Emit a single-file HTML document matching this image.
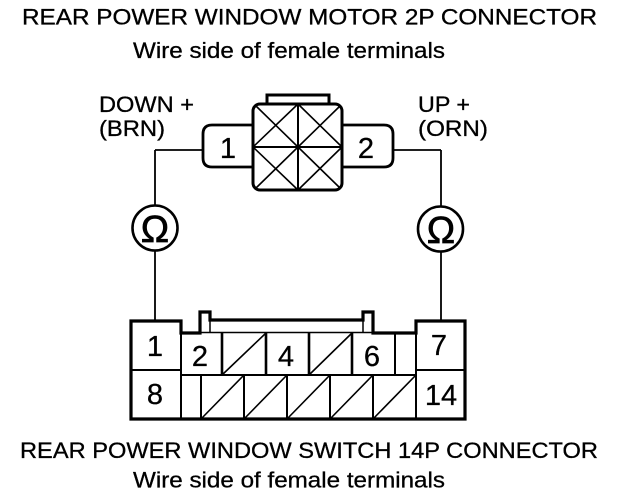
<!DOCTYPE html>
<html>
<head>
<meta charset="utf-8">
<style>
html,body{margin:0;padding:0;background:#fff;width:624px;height:496px;overflow:hidden}
svg{display:block}
text{font-family:"Liberation Sans",sans-serif;fill:#000;stroke:#000;stroke-width:.3}
</style>
</head>
<body>
<svg width="624" height="496" viewBox="0 0 624 496" xmlns="http://www.w3.org/2000/svg">
<text x="22" y="24.500" font-size="22" textLength="575" lengthAdjust="spacingAndGlyphs">REAR POWER WINDOW MOTOR 2P CONNECTOR</text>
<text x="133" y="58" font-size="22" textLength="312" lengthAdjust="spacingAndGlyphs">Wire side of female terminals</text>
<text x="99" y="112" font-size="22" textLength="95" lengthAdjust="spacingAndGlyphs">DOWN +</text>
<text x="99" y="136" font-size="22" textLength="66" lengthAdjust="spacingAndGlyphs">(BRN)</text>
<text x="418" y="112" font-size="22" textLength="52" lengthAdjust="spacingAndGlyphs">UP +</text>
<text x="418" y="136" font-size="22" textLength="70" lengthAdjust="spacingAndGlyphs">(ORN)</text>
<text x="20" y="458" font-size="22" textLength="578" lengthAdjust="spacingAndGlyphs">REAR POWER WINDOW SWITCH 14P CONNECTOR</text>
<text x="133" y="487.500" font-size="22" textLength="312" lengthAdjust="spacingAndGlyphs">Wire side of female terminals</text>

<g fill="none" stroke="#000">
<!-- wires -->
<path d="M155 150H203M155 150V205M155 251V321M393 150H441M441 150V206M441 252V321" stroke-width="1.800"/>
<!-- motor connector -->
<path d="M267 104V95H329V104" stroke-width="3"/>
<path d="M253 125H212Q203 125 203 134V158Q203 167 212 167H253" stroke-width="2.800"/>
<path d="M342 125H384Q393 125 393 134V158Q393 167 384 167H342" stroke-width="2.800"/>
<rect x="253" y="104" width="89" height="86" rx="7" stroke-width="3"/>
<path d="M298 104V190M253 147H342" stroke-width="2"/>
<path d="M256 106L298 147L340 188M340 106L298 147L256 188M298 104L342 147M298 104L253 147M253 147L298 190M342 147L298 190" stroke-width="1.600"/>
<!-- ohm meters -->
<circle cx="155" cy="228" r="22.500" stroke-width="2.600"/>
<circle cx="440.500" cy="229" r="22.500" stroke-width="2.600"/>
<!-- 14P connector outline -->
<path d="M181 333V321H131V419H465V321H416V333H373V312H363V320H210V312H200V333Z" stroke-width="3.200"/>
<path d="M210 320V333M363 320V333" stroke-width="1.500"/>
<path d="M200 332.500H373" stroke-width="1.500"/>
<path d="M131 370H181M416 370H465" stroke-width="2"/>
<path d="M181 333V419M416 333V419" stroke-width="2"/>
<path d="M181 375H416" stroke-width="2"/>
<path d="M222 333V375M266 333V375M309 333V375M352 333V375" stroke-width="2.600"/>
<path d="M395 333V375" stroke-width="2"/>
<path d="M201 375V419M244 375V419M287 375V419M330 375V419M373 375V419" stroke-width="2"/>
<!-- diagonals -->
<path d="M222 375L266 333M309 375L352 333M201 419L244 375M244 419L287 375M287 419L330 375M330 419L373 375M373 419L416 375" stroke-width="1.600"/>
</g>

<text x="228" y="158" font-size="29" text-anchor="middle">1</text>
<text x="366" y="158" font-size="29" text-anchor="middle">2</text>
<text x="155" y="242" font-size="38" text-anchor="middle" style="stroke-width:.7">Ω</text>
<text x="441" y="243" font-size="38" text-anchor="middle" style="stroke-width:.7">Ω</text>
<text x="155" y="356" font-size="29" text-anchor="middle">1</text>
<text x="155" y="404" font-size="29" text-anchor="middle">8</text>
<text x="200" y="366" font-size="29" text-anchor="middle">2</text>
<text x="286" y="366" font-size="29" text-anchor="middle">4</text>
<text x="372" y="366" font-size="29" text-anchor="middle">6</text>
<text x="439" y="355" font-size="29" text-anchor="middle">7</text>
<text x="441" y="405" font-size="29" text-anchor="middle">14</text>
</svg>
</body>
</html>
